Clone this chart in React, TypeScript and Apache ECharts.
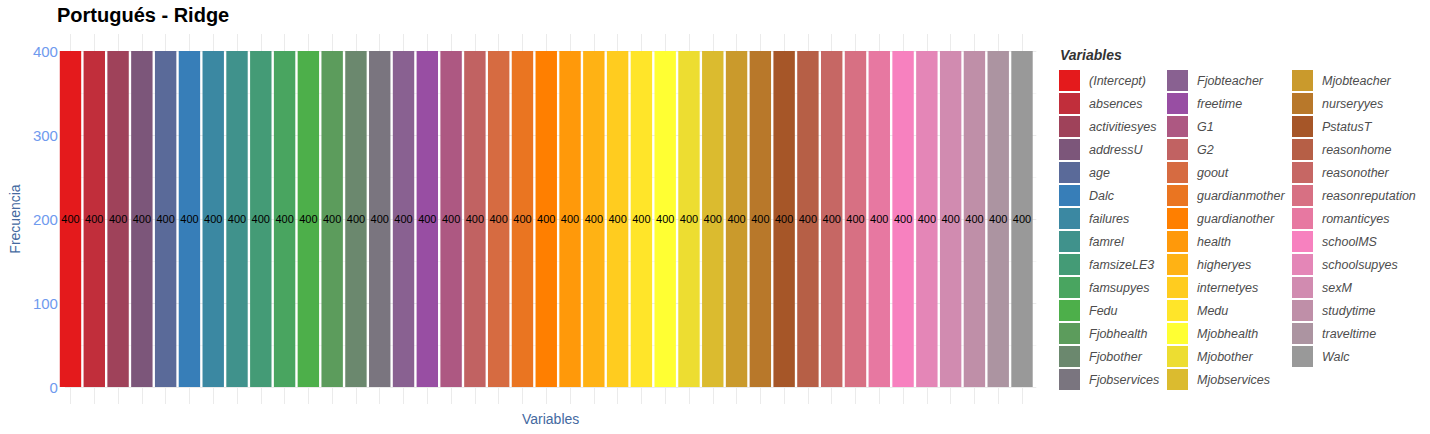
import React, { useEffect, useRef } from "react";
import * as echarts from "echarts";

const categories: string[] = [
  "(Intercept)", "absences", "activitiesyes", "addressU", "age", "Dalc", "failures",
  "famrel", "famsizeLE3", "famsupyes", "Fedu", "Fjobhealth", "Fjobother", "Fjobservices",
  "Fjobteacher", "freetime", "G1", "G2", "goout", "guardianmother", "guardianother",
  "health", "higheryes", "internetyes", "Medu", "Mjobhealth", "Mjobother", "Mjobservices",
  "Mjobteacher", "nurseryyes", "PstatusT", "reasonhome", "reasonother", "reasonreputation",
  "romanticyes", "schoolMS", "schoolsupyes", "sexM", "studytime", "traveltime", "Walc",
];

const values: number[] = [
  400, 400, 400, 400, 400, 400, 400, 400, 400, 400, 400, 400, 400, 400,
  400, 400, 400, 400, 400, 400, 400, 400, 400, 400, 400, 400, 400, 400,
  400, 400, 400, 400, 400, 400, 400, 400, 400, 400, 400, 400, 400,
];

const yTicks: number[] = [0, 100, 200, 300, 400];

const set1 = ["#E41A1C", "#377EB8", "#4DAF4A", "#984EA3", "#FF7F00", "#FFFF33", "#A65628", "#F781BF", "#999999"];

function hexToRgb(h: string): number[] {
  return [parseInt(h.slice(1, 3), 16), parseInt(h.slice(3, 5), 16), parseInt(h.slice(5, 7), 16)];
}
function ramp(n: number): string[] {
  const out: string[] = [];
  const m = set1.length - 1;
  for (let i = 0; i < n; i++) {
    const t = (i / (n - 1)) * m;
    const k = Math.min(Math.floor(t), m - 1);
    const f = t - k;
    const a = hexToRgb(set1[k]);
    const b = hexToRgb(set1[k + 1]);
    const c = a.map((v, j) => Math.round(v + (b[j] - v) * f));
    out.push("#" + c.map((v) => v.toString(16).padStart(2, "0")).join("").toUpperCase());
  }
  return out;
}

const FONT = "'Liberation Sans', Arial, sans-serif";

export default function App() {
  const ref = useRef<HTMLDivElement>(null);
  useEffect(() => {
    if (!ref.current) return;
    const chart = echarts.init(ref.current, null, { renderer: "svg" });
    const colors = ramp(categories.length);

    const series = categories.map((name, i) => ({
      type: "bar",
      name,
      xAxisIndex: 0,
      yAxisIndex: 0,
      data: values.map((v, j) => (j === i ? v : "-")),
      barWidth: "90%",
      barGap: "-100%",
      itemStyle: { color: colors[i] },
      label: {
        show: true,
        position: "inside",
        color: "#000",
        fontSize: 11,
        fontFamily: FONT,
      },
      emphasis: { disabled: true },
    }));

    const legendCols = [
      { left: 1059, names: categories.slice(0, 14) },
      { left: 1167, names: categories.slice(14, 28) },
      { left: 1292, names: categories.slice(28) },
    ];

    const legends = legendCols.map((c) => ({
      show: true,
      orient: "vertical",
      left: c.left,
      top: 70,
      padding: 0,
      itemWidth: 21,
      itemHeight: 21,
      itemGap: 2,
      icon: "rect",
      selectedMode: false,
      data: c.names,
      textStyle: {
        color: "#4D4D4D",
        fontSize: 12.5,
        fontStyle: "italic",
        fontFamily: FONT,
        padding: [0, 0, 0, 4],
      },
    }));

    const option: any = {
      animation: false,
      backgroundColor: "#fff",
      title: [
        {
          text: "Portugués - Ridge",
          left: 57,
          top: 5,
          padding: 0,
          textStyle: { color: "#000", fontSize: 20, fontWeight: "bold", fontFamily: FONT },
        },
        {
          text: "Variables",
          left: 1060,
          top: 48,
          padding: 0,
          textStyle: { color: "#333", fontSize: 14, fontWeight: "bold", fontStyle: "italic", fontFamily: FONT },
        },
      ],
      legend: legends,
      grid: [
        { left: 58.6, width: 975.3, top: 51, bottom: 47 },
        { left: 56.2, right: 393.7, top: 51, bottom: 47 },
        { left: 70.5, width: 951.5, top: 34, bottom: 30 },
      ],
      xAxis: [
        { gridIndex: 0, type: "category", data: categories, show: false },
        {
          gridIndex: 1,
          type: "value",
          min: 0,
          max: 1,
          axisLine: { show: false },
          axisTick: { show: false },
          axisLabel: { show: false },
          splitLine: { show: false },
          name: "Variables",
          nameLocation: "middle",
          nameGap: 25,
          nameTextStyle: { color: "#44699F", fontSize: 14, fontFamily: FONT },
        },
        {
          gridIndex: 2,
          type: "value",
          min: 0,
          max: 40,
          interval: 1,
          axisLine: { show: false },
          axisTick: { show: false },
          axisLabel: { show: false },
          splitLine: { show: true, lineStyle: { color: "#EBEBEB", width: 1 } },
        },
      ],
      yAxis: [
        { gridIndex: 0, type: "value", min: 0, max: 400, show: false },
        {
          gridIndex: 1,
          type: "value",
          min: yTicks[0],
          max: yTicks[yTicks.length - 1],
          interval: 100,
          axisLine: { show: false },
          axisTick: { show: false },
          minorTick: { show: false, splitNumber: 2 },
          axisLabel: { color: "#6F9AEE", fontSize: 15, margin: 7, fontFamily: FONT },
          splitLine: { show: true, lineStyle: { color: "#EBEBEB", width: 1 } },
          minorSplitLine: { show: true, lineStyle: { color: "#F2F2F2", width: 0.8 } },
          name: "Frecuencia",
          nameLocation: "middle",
          nameGap: 35,
          nameTextStyle: { color: "#44699F", fontSize: 14, fontFamily: FONT },
        },
        { gridIndex: 2, type: "value", min: 0, max: 1, show: false },
      ],
      series,
    };
    chart.setOption(option);
    return () => chart.dispose();
  }, []);

  return (
    <div
      ref={ref}
      style={{ position: "absolute", left: 0, top: 0, width: 1430, height: 434 }}
    />
  );
}
